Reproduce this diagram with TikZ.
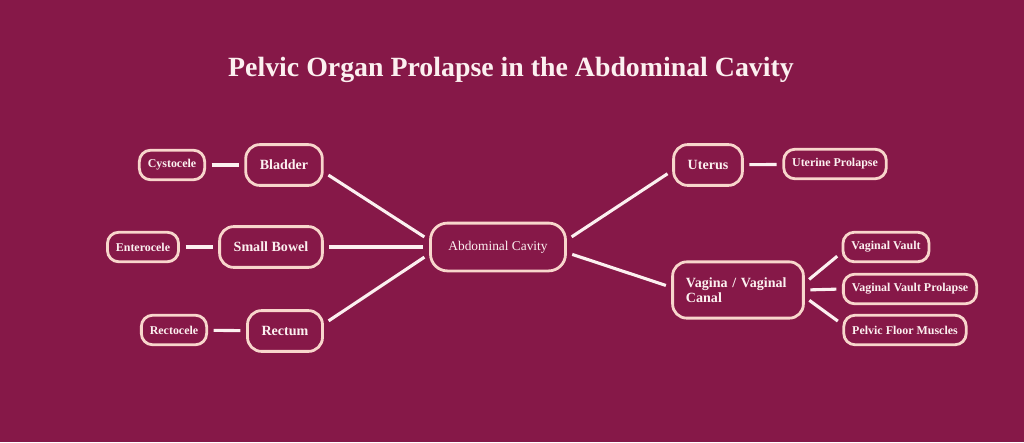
\documentclass[tikz,border=0pt]{standalone}
\usepackage{fontspec}
\setmainfont{Liberation Serif}
\definecolor{plum}{RGB}{134,24,72}
\definecolor{rimpink}{RGB}{248,214,204}
\definecolor{linkwhite}{RGB}{252,240,240}
\tikzset{
  organ/.style={draw=rimpink, line width=2pt, rounded corners=10pt, fill=plum,
    text=linkwhite, font=\bfseries\fontsize{10}{11}\selectfont,
    inner xsep=10pt, minimum height=29pt},
  sub/.style={draw=rimpink, line width=2pt, rounded corners=8pt, fill=plum,
    text=linkwhite, font=\bfseries\fontsize{8.5}{10}\selectfont,
    inner xsep=6pt, minimum height=21pt},
  hub/.style={draw=rimpink, line width=2pt, rounded corners=12pt, fill=plum,
    text=linkwhite, font=\fontsize{9.5}{11}\selectfont,
    minimum width=96pt, minimum height=34pt},
  link/.style={draw=linkwhite, line width=2.2pt, shorten >=4pt, shorten <=4pt}
}
\begin{document}
\begin{tikzpicture}[x=0.025cm, y=-0.025cm]
        \fill[plum] (0,0) rectangle (1024,442);
        \useasboundingbox (0,0) rectangle (1024,442);
        \node[text=linkwhite, font=\bfseries\fontsize{19.8}{22}\selectfont] (title) at (511,70) {Pelvic Organ Prolapse in the Abdominal Cavity};
        % centre
        \node[hub] (abd) at (498,247) {Abdominal Cavity};
        % left side
        \node[organ] (bladder) at (284,165) {Bladder};
        \node[organ] (bowel) at (271,247) {Small Bowel};
        \node[organ] (rectum) at (285,331) {Rectum};
        \node[sub] (cysto) at (172,165) {Cystocele};
        \node[sub] (entero) at (143,247) {Enterocele};
        \node[sub] (recto) at (174,330) {Rectocele};
        % right side
        \node[organ] (uterus) at (708,165) {Uterus};
        \node[organ, text width=74pt, inner xsep=9.5pt, align=left, minimum height=40pt] (vagina) at (738,290) {Vagina / Vaginal\\Canal};
        \node[sub] (utprol) at (835,164) {Uterine Prolapse};
        \node[sub] (vault) at (886,247) {Vaginal Vault};
        \node[sub] (vaultprol) at (910,289) {Vaginal Vault Prolapse};
        \node[sub] (pfm) at (905,330) {Pelvic Floor Muscles};
        % links
        \draw[link] ([yshift=-5pt]bladder.east) -- ([yshift=5pt]abd.west);
        \draw[link] (bowel.east) -- (abd.west);
        \draw[link] ([yshift=5pt]rectum.east) -- ([yshift=-5pt]abd.west);
        \draw[link] ([yshift=5pt]abd.east) -- ([yshift=-4pt]uterus.west);
        \draw[link] ([yshift=-4pt]abd.east) -- ([yshift=2pt]vagina.west);
        \draw[link] (cysto) -- (bladder);
        \draw[link] (entero) -- (bowel);
        \draw[link] (recto) -- (rectum);
        \draw[link] (uterus) -- (utprol);
        \draw[link] ([yshift=5pt]vagina.east) -- ([yshift=-4pt]vault.west);
        \draw[link] (vagina.east) -- (vaultprol.west);
        \draw[link] ([yshift=-5pt]vagina.east) -- ([yshift=4pt]pfm.west);
    \end{tikzpicture}
\end{document}
